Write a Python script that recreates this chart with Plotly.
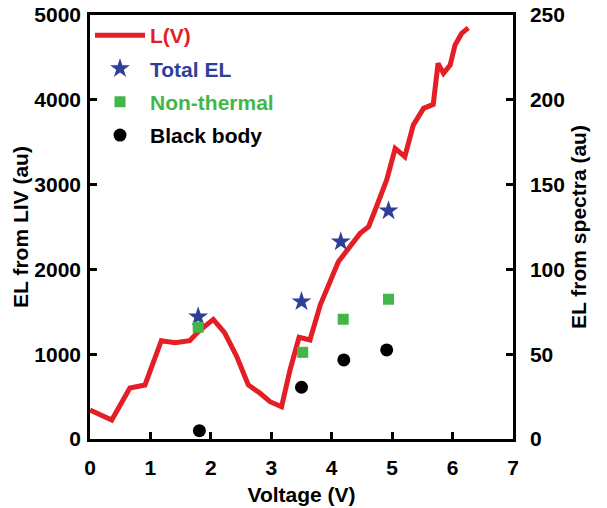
import plotly.graph_objects as go

# L(V) curve (left axis)
lv_voltage = [0.00, 0.36, 0.66, 0.91, 1.18, 1.41, 1.65, 1.79, 2.04, 2.23, 2.43, 2.62, 2.81,
              2.98, 3.17, 3.31, 3.46, 3.64, 3.81, 4.11, 4.47, 4.61, 4.74, 4.91, 5.05, 5.21,
              5.35, 5.52, 5.68, 5.76, 5.85, 5.96, 6.04, 6.15, 6.26]
lv_el = [342, 224, 601, 637, 1159, 1135, 1159, 1265, 1410, 1250, 970, 637, 542,
         440, 381, 814, 1200, 1167, 1580, 2090, 2425, 2503, 2739, 3054, 3427, 3329,
         3702, 3899, 3946, 4430, 4312, 4410, 4645, 4783, 4849]

# Spectra-derived values (right axis)
total_v = [1.79, 3.50, 4.15, 4.94]
total_el = [72.1, 81.0, 116.3, 134.6]
nonth_v = [1.79, 3.52, 4.19, 4.94]
nonth_el = [65.9, 51.1, 70.6, 82.4]
bb_v = [1.81, 3.50, 4.20, 4.91]
bb_el = [4.9, 30.5, 46.6, 52.5]

RED = "#e31e24"
BLUE = "#2e3f9a"
GREEN = "#43b649"
BLACK = "#000000"

fig = go.Figure()
fig.add_trace(go.Scatter(x=lv_voltage, y=lv_el, mode="lines",
                         line=dict(color=RED, width=5),
                         name=f"<span style='color:{RED}'>L(V)</span>",
                         legendgroup="a", yaxis="y"))
fig.add_trace(go.Scatter(x=total_v, y=total_el, mode="markers",
                         marker=dict(symbol="star", color=BLUE, size=15),
                         name=f"<span style='color:{BLUE}'>Total EL</span>",
                         legendgroup="b", yaxis="y2"))
fig.add_trace(go.Scatter(x=nonth_v, y=nonth_el, mode="markers",
                         marker=dict(symbol="square", color=GREEN, size=11),
                         name=f"<span style='color:{GREEN}'>Non-thermal</span>",
                         legendgroup="c", yaxis="y2"))
fig.add_trace(go.Scatter(x=bb_v, y=bb_el, mode="markers",
                         marker=dict(symbol="circle", color=BLACK, size=13),
                         name=f"<span style='color:{BLACK}'>Black body</span>",
                         legendgroup="d", yaxis="y2"))

font_fam = "Liberation Sans, Arial, sans-serif"
FS = 21
axis_common = dict(showline=True, linecolor="black", linewidth=2.5, ticks="inside",
                   ticklen=7, tickwidth=2.5, tickcolor="black", showgrid=False,
                   zeroline=False, automargin=False,
                   tickfont=dict(family=font_fam, size=FS, color="black", weight="bold"))
title_font = dict(family=font_fam, size=FS, color="black", weight="bold")

fig.update_layout(
    width=607, height=508,
    margin=dict(l=90, r=94, t=15, b=69),
    paper_bgcolor="white", plot_bgcolor="white",
    showlegend=True,
    legend=dict(x=0.0, y=1.0, xanchor="left", yanchor="top",
                bgcolor="rgba(0,0,0,0)", tracegroupgap=3, traceorder="grouped",
                itemwidth=50,
                font=dict(family=font_fam, size=FS, weight="bold")),
    xaxis=dict(range=[0, 7], dtick=1, mirror=True, ticklabelstandoff=8,
               title=dict(text="Voltage (V)", standoff=10, font=title_font),
               **axis_common),
    yaxis=dict(range=[0, 5000], dtick=1000, ticklabelstandoff=2,
               title=dict(text="EL from LIV (au)", standoff=0, font=title_font),
               **axis_common),
    yaxis2=dict(range=[0, 250], dtick=50, overlaying="y", side="right",
                ticklabelstandoff=10,
                title=dict(text="EL from spectra (au)", standoff=8, font=title_font),
                **axis_common),
)

fig.write_html("out.html")
